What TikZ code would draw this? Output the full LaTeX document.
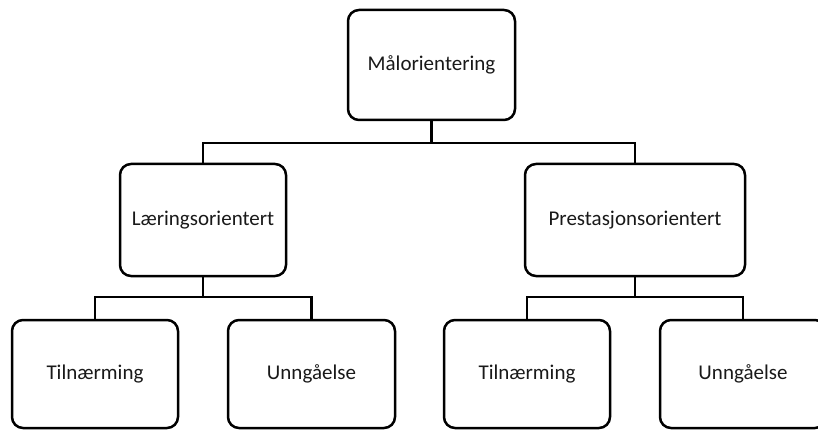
\documentclass[tikz,border=0pt]{standalone}
\usepackage{fontspec}
\setmainfont{Carlito}
\begin{document}
\begin{tikzpicture}[x=1pt,y=-1pt,
  box/.style={draw=black, line width=2.5pt, rounded corners=11pt, fill=white,
    minimum width=166pt, minimum height=110pt, inner sep=0pt,
    font=\fontsize{21}{25}\selectfont, text=black!90},
  conn/.style={draw=black, line width=2.4pt}]
\useasboundingbox (0,0) rectangle (818,430);
\clip (0,0) rectangle (818,430);
\fill[white] (0,0) rectangle (818,430);
\coordinate (busA) at (0,143);
\coordinate (busL) at (0,297);
\coordinate (busP) at (0,297);
\node[box, minimum width=167pt] (top) at (431.5,65) {Målorientering};
\node[box, minimum height=112pt] (L) at (203,220) {Læringsorientert};
\node[box, minimum width=220pt, minimum height=112pt] (P) at (635,220) {Prestasjonsorientert};
\node[box, minimum height=108pt] (B1) at (95,374) {Tilnærming};
\node[box, minimum width=167pt, minimum height=108pt] (B2) at (311.5,374) {Unngåelse};
\node[box, minimum height=108pt] (B3) at (527,374) {Tilnærming};
\node[box, minimum height=108pt] (B4) at (743,374) {Unngåelse};
\draw[conn] (top.south) -- (top.south |- busA);
\draw[conn] (L.north) -- (L.north |- busA) -| (P.north);
\draw[conn] (L.south) -- (L.south |- busL);
\draw[conn] (B1.north) -- (B1.north |- busL) -| (B2.north);
\draw[conn] (P.south) -- (P.south |- busP);
\draw[conn] (B3.north) -- (B3.north |- busP) -| (B4.north);
\end{tikzpicture}
\end{document}
